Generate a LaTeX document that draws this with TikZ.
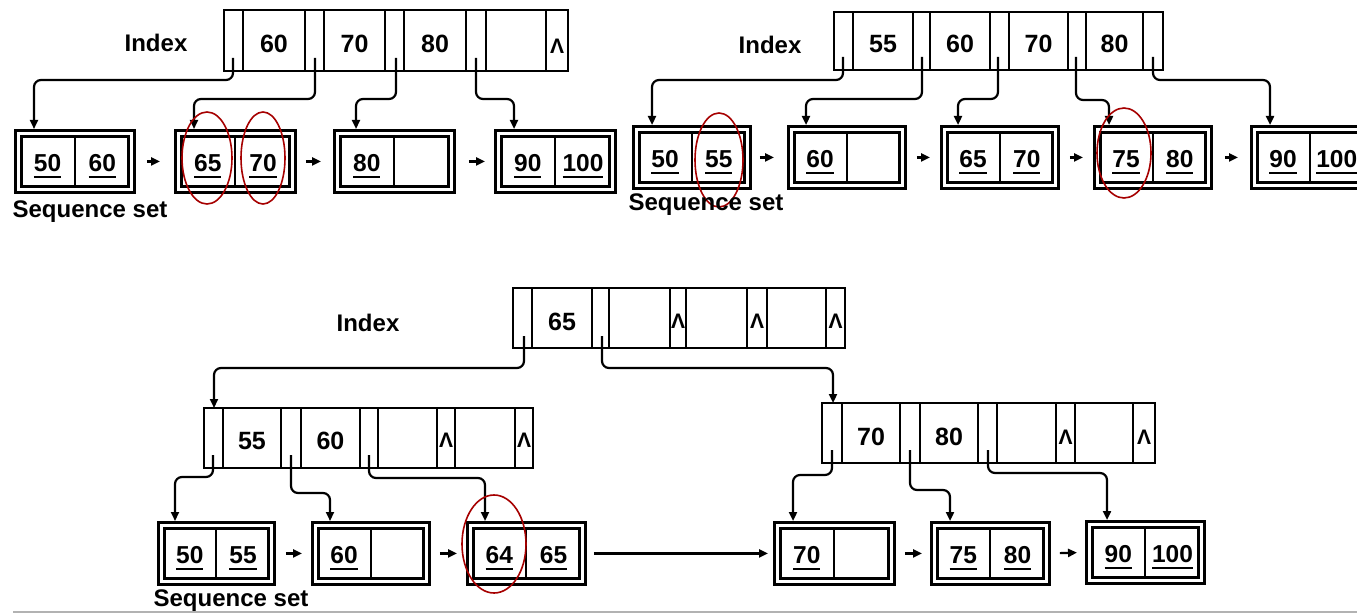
\documentclass[tikz,border=0pt]{standalone}
\usepackage{fontspec}
\setmainfont{Liberation Sans}
\usetikzlibrary{arrows.meta,shapes.geometric,calc}

\newcommand{\ukey}[1]{\setbox0=\hbox{#1}\rlap{\copy0}\rule[-6pt]{\wd0}{2.2pt}}

\tikzset{
  txt/.style={font=\bfseries\fontsize{24}{24}\selectfont, inner sep=0pt},
  num/.style={font=\bfseries\fontsize{25}{25}\selectfont, inner sep=0pt},
  key/.style={font=\bfseries\fontsize{24.5}{24.5}\selectfont, inner sep=0pt},
  nil/.style={font=\bfseries\fontsize{21}{21}\selectfont, inner sep=0pt},
  idx/.style={draw, line width=2.6pt, rectangle, anchor=north west, inner sep=0pt, outer sep=0pt},
  divl/.style={line width=2pt},
  leafo/.style={draw, line width=2.8pt, rectangle, anchor=north west, inner sep=0pt, minimum height=62pt},
  leafi/.style={draw, line width=2.5pt, rectangle, inner sep=0pt, minimum height=50pt},
  cellline/.style={line width=2pt},
  conn/.style={line width=2.2pt, rounded corners=7pt, -{Triangle[length=9pt,width=8pt]}},
  link/.style={line width=2.2pt, -{Triangle[length=9pt,width=8pt]}},
  oval/.style={draw=red!65!black, line width=1.6pt, ellipse, inner sep=0pt},
}

\newcommand{\mkleaf}[6]{%
  \node[leafo, minimum width=#4pt] (#1) at (#2,#3) {};
  \node[leafi, minimum width=#4pt-12pt] (#1-in) at (#1.center) {};
  \draw[cellline] (#1-in.north) -- (#1-in.south);
  \node[key, anchor=base] (#1-a) at ($(#1-in.west)!0.5!(#1-in.center)+(0,10.5)$) {\ukey{#5}};
  \if\relax\detokenize{#6}\relax\else
  \node[key, anchor=base] (#1-b) at ($(#1-in.east)!0.5!(#1-in.center)+(0,10.5)$) {\ukey{#6}};
  \fi
}

\begin{document}
\begin{tikzpicture}[x=1pt,y=-1pt]
\useasboundingbox (0,0) rectangle (1357,615);
\fill[white] (0,0) rectangle (1357,615);

% ================= top-left =================
\node[txt] (tl-lab) at (156,43) {Index};
\node[idx, minimum width=344pt, minimum height=61pt] (tl) at (224,10) {};
\foreach \x in {243,305,324,385,404,466,486,546} \draw[divl] (\x,10) -- (\x,71);
\node[num] (tl-k1) at (274,44) {60};
\node[num] (tl-k2) at (354.5,44) {70};
\node[num] (tl-k3) at (435,44) {80};
\node[nil] (tl-n1) at (557,46) {Λ};
\coordinate (tl-p1) at (233,58);
\coordinate (tl-p2) at (315,58);
\coordinate (tl-p3) at (396,58);
\coordinate (tl-p4) at (476,58);

\mkleaf{tl1}{14}{129}{119}{50}{60}
\mkleaf{tl2}{174}{129}{120}{65}{70}
\mkleaf{tl3}{333}{129}{120}{80}{}
\mkleaf{tl4}{494}{129}{120}{90}{100}

\draw[conn] (tl-p1) -- (tl-p1 |- 0,80) -| (tl1.north -| 34,0);
\draw[conn] (tl-p2) -- (tl-p2 |- 0,99) -| (tl2.north -| 194,0);
\draw[conn] (tl-p3) -- (tl-p3 |- 0,99) -| (tl3.north -| 356,0);
\draw[conn] (tl-p4) -- (tl-p4 |- 0,99) -| (tl4.north -| 514,0);

\draw[link, shorten <=11pt, shorten >=14pt] (tl1.east) -- (tl2.west);
\draw[link, shorten <=9pt, shorten >=12pt] (tl2.east) -- (tl3.west);
\draw[link, shorten <=13pt, shorten >=9pt] (tl3.east) -- (tl4.west);

\node[oval, minimum width=50pt, minimum height=92pt] (tl-o1) at (207,158) {};
\node[oval, minimum width=44pt, minimum height=92pt] (tl-o2) at (263,158) {};

\node[txt] (tl-seq) at (90,212) {Sequence set};

% ================= top-right =================
\node[txt] (tr-lab) at (770,45) {Index};
\node[idx, minimum width=329pt, minimum height=58pt] (tr) at (834,12) {};
\foreach \x in {853,913,930,990,1009,1068,1086,1143} \draw[divl] (\x,12) -- (\x,70);
\node[num] (tr-k1) at (883,44) {55};
\node[num] (tr-k2) at (960,44) {60};
\node[num] (tr-k3) at (1038.5,44) {70};
\node[num] (tr-k4) at (1114.5,44) {80};
\coordinate (tr-p1) at (843,57);
\coordinate (tr-p2) at (922,57);
\coordinate (tr-p3) at (998,57);
\coordinate (tr-p4) at (1076,57);
\coordinate (tr-p5) at (1153,57);

\mkleaf{tr1}{632}{125}{117}{50}{55}
\mkleaf{tr2}{787}{125}{117}{60}{}
\mkleaf{tr3}{940}{125}{117}{65}{70}
\mkleaf{tr4}{1093}{125}{117}{75}{80}
\mkleaf{tr5}{1250}{125}{117}{90}{100}

\draw[conn] (tr-p1) -- (tr-p1 |- 0,80) -| (tr1.north -| 652,0);
\draw[conn] (tr-p2) -- (tr-p2 |- 0,99) -| (tr2.north -| 806,0);
\draw[conn] (tr-p3) -- (tr-p3 |- 0,99) -| (tr3.north -| 958,0);
\draw[conn] (tr-p4) -- (tr-p4 |- 0,100) -| (tr4.north -| 1109,0);
\draw[conn] (tr-p5) -- (tr-p5 |- 0,80) -| (tr5.north -| 1270,0);

\draw[link, shorten <=8pt, shorten >=13pt] (tr1.east) -- (tr2.west);
\draw[link, shorten <=10pt, shorten >=10pt] (tr2.east) -- (tr3.west);
\draw[link, shorten <=10pt, shorten >=10pt] (tr3.east) -- (tr4.west);
\draw[link, shorten <=12pt, shorten >=12pt] (tr4.east) -- (tr5.west);

\node[oval, minimum width=48pt, minimum height=94pt] (tr-o1) at (719,160) {};
\node[oval, minimum width=54pt, minimum height=90pt] (tr-o2) at (1124,153) {};

\node[txt] (tr-seq) at (706,205) {Sequence set};

% ================= bottom =================
\node[txt] (b-lab) at (368,323) {Index};
\node[idx, minimum width=332pt, minimum height=60pt] (br) at (513,288) {};
\foreach \x in {532,592,609,670,686,747,767,826} \draw[divl] (\x,288) -- (\x,348);
\node[num] (br-k1) at (562,322) {65};
\node[nil] (br-n1) at (678,321) {Λ};
\node[nil] (br-n2) at (757,321) {Λ};
\node[nil] (br-n3) at (835.5,321) {Λ};
\coordinate (br-p1) at (524,336);
\coordinate (br-p2) at (602,336);

% left middle index
\node[idx, minimum width=329pt, minimum height=60pt] (lm) at (204,408) {};
\foreach \x in {223,281,301,360,378,437,455,515} \draw[divl] (\x,408) -- (\x,468);
\node[num] (lm-k1) at (252,441) {55};
\node[num] (lm-k2) at (330.5,441) {60};
\node[nil] (lm-n1) at (446,440) {Λ};
\node[nil] (lm-n2) at (524,440) {Λ};
\coordinate (lm-p1) at (213,455);
\coordinate (lm-p2) at (291,455);
\coordinate (lm-p3) at (369,455);

% right middle index
\node[idx, minimum width=333pt, minimum height=60pt] (rm) at (822,403) {};
\foreach \x in {842,900,920,978,997,1056,1075,1133} \draw[divl] (\x,403) -- (\x,463);
\node[num] (rm-k1) at (871,437) {70};
\node[num] (rm-k2) at (949,437) {80};
\node[nil] (rm-n1) at (1065.5,437) {Λ};
\node[nil] (rm-n2) at (1144,437) {Λ};
\coordinate (rm-p1) at (832,450);
\coordinate (rm-p2) at (910,450);
\coordinate (rm-p3) at (988,450);

\draw[conn] (br-p1) -- (br-p1 |- 0,368) -| (lm.north -| 214,0);
\draw[conn] (br-p2) -- (br-p2 |- 0,368) -| (rm.north -| 833,0);

% leaves
\mkleaf{lb1}{157}{521}{116}{50}{55}
\mkleaf{lb2}{311}{521}{117}{60}{}
\mkleaf{lb3}{466}{521}{118}{64}{65}
\mkleaf{rb1}{773}{521}{120}{70}{}
\mkleaf{rb2}{930}{521}{118}{75}{80}
\mkleaf{rb3}{1085}{520}{118}{90}{100}

\draw[conn] (lm-p1) -- (lm-p1 |- 0,477) -| (lb1.north -| 175,0);
\draw[conn] (lm-p2) -- (lm-p2 |- 0,493) -| (lb2.north -| 330,0);
\draw[conn] (lm-p3) -- (lm-p3 |- 0,478) -| (lb3.north -| 485,0);
\draw[conn] (rm-p1) -- (rm-p1 |- 0,475) -| (rb1.north -| 793,0);
\draw[conn] (rm-p2) -- (rm-p2 |- 0,490) -| (rb2.north -| 950,0);
\draw[conn] (rm-p3) -- (rm-p3 |- 0,473) -| (rb3.north -| 1107,0);

\draw[link, shorten <=10pt, shorten >=9pt] (lb1.east) -- (lb2.west);
\draw[link, shorten <=9pt, shorten >=9pt] (lb2.east) -- (lb3.west);
\draw[link, shorten <=7pt, shorten >=5pt] (lb3.east) -- (rb1.west);
\draw[link, shorten <=9pt, shorten >=8pt] (rb1.east) -- (rb2.west);
\draw[link, shorten <=9pt, shorten >=8pt] (rb2.east) -- (rb3.west);

\node[oval, minimum width=64pt, minimum height=98pt] (b-o1) at (494,544) {};

\node[txt] (b-seq) at (231,601) {Sequence set};

\draw[line width=1.5pt, gray!60] (13,612) -- (1357,612);
\end{tikzpicture}
\end{document}
